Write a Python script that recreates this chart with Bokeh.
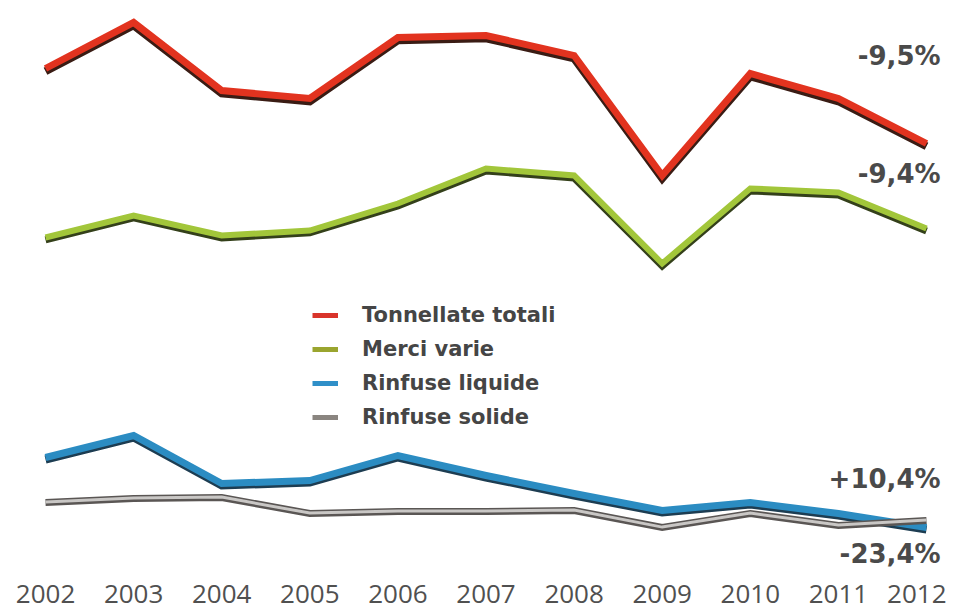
from bokeh.plotting import figure
from bokeh.models import Range1d, Label, Legend, LegendItem, ColumnDataSource, FixedTicker
from bokeh.transform import dodge
from bokeh.embed import file_html
from bokeh.resources import INLINE

# ---- data (arbitrary units, common linear scale) ----
years = [2002, 2003, 2004, 2005, 2006, 2007, 2008, 2009, 2010, 2011, 2012]
tonnellate_totali = [25.25, 27.55, 24.15, 23.75, 26.8, 26.9, 25.9, 19.9, 25.0, 23.75, 21.5]
merci_varie = [16.8, 17.9, 16.9, 17.15, 18.5, 20.25, 19.9, 15.5, 19.25, 19.05, 17.25]
rinfuse_liquide = [5.8, 6.9, 4.5, 4.65, 5.9, 4.9, 4.0, 3.15, 3.55, 3.0, 2.3]
rinfuse_solide = [3.55, 3.75, 3.8, 3.0, 3.1, 3.1, 3.15, 2.3, 3.0, 2.4, 2.65]
series_names = ["Tonnellate totali", "Merci varie", "Rinfuse liquide", "Rinfuse solide"]
change_labels = ["-9,5%", "-9,4%", "+10,4%", "-23,4%"]
year_labels = [str(y) for y in years]

p = figure(frame_width=946, frame_height=566,
           x_range=Range1d(2001.489, 2012.227), y_range=Range1d(0.35, 28.65),
           output_backend="svg", toolbar_location=None,
           min_border=0, min_border_left=0, min_border_right=0, min_border_top=0,
           min_border_bottom=48)
p.outline_line_color = None
p.grid.visible = False
p.yaxis.visible = False
p.background_fill_color = "white"

xa = p.xaxis[0]
xa.ticker = FixedTicker(ticks=years)
xa.major_label_overrides = {y: l for y, l in zip(years, year_labels)}
xa.axis_line_color = None
xa.major_tick_line_color = None
xa.minor_tick_line_color = None
xa.major_label_text_font = "Open Sans"
xa.major_label_text_font_size = "26px"
xa.major_label_text_color = "#505050"
xa.major_label_standoff = 12

src = ColumnDataSource(dict(x=years, tot=tonnellate_totali, mer=merci_varie,
                            liq=rinfuse_liquide, sol=rinfuse_solide))

# red: totals
p.line(x="x", y=dodge("tot", -0.14), source=src, line_width=8, line_color="#3a1c14", line_join="miter")
p.line(x="x", y="tot", source=src, line_width=7, line_color="#e2331f", line_join="miter")
# green: merci varie
p.line(x="x", y=dodge("mer", -0.12), source=src, line_width=7, line_color="#34401a", line_join="miter")
p.line(x="x", y="mer", source=src, line_width=6, line_color="#a2c63a", line_join="miter")
# blue: rinfuse liquide
p.line(x="x", y=dodge("liq", -0.1), source=src, line_width=8, line_color="#1d3d52", line_join="miter")
p.line(x="x", y="liq", source=src, line_width=7, line_color="#2b8cc2", line_join="miter")
# grey: rinfuse solide
p.line(x="x", y="sol", source=src, line_width=7, line_color="#5a5654", line_join="miter")
p.line(x="x", y=dodge("sol", 0.02), source=src, line_width=3, line_color="#c9c7c5", line_join="miter")

# legend (legend-only renderers, drawn nowhere in the plot)
legend_colors = ["#d9342b", "#9aa52f", "#2f8fc8", "#8a8580"]
items = []
for name, col in zip(series_names, legend_colors):
    r = p.line(x=[years[0], years[1]], y=[float("nan"), float("nan")], line_width=5, line_color=col)
    items.append(LegendItem(label=name, renderers=[r]))
legend = Legend(items=items, location=(312, 132), glyph_width=26, glyph_height=34,
                label_standoff=24, padding=0, margin=0, spacing=0,
                border_line_color=None, background_fill_alpha=0,
                label_text_font="DejaVu Sans", label_text_font_style="bold",
                label_text_font_size="21px", label_text_color="#454545")
p.add_layout(legend)

# change annotations
label_y = [25.9, 20.0, 4.75, 1.0]
for txt, ly in zip(change_labels, label_y):
    p.add_layout(Label(x=2012.16, y=ly, text=txt, text_align="right", text_baseline="middle",
                       text_font="DejaVu Sans", text_font_style="bold", text_font_size="26px",
                       text_color="#4a4a4a"))

open("out.html", "w").write(file_html(p, INLINE))
